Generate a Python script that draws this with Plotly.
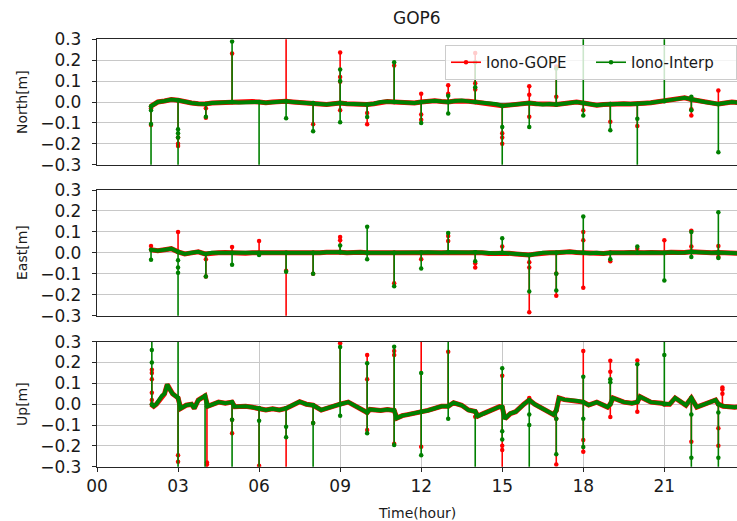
import numpy as np
import plotly.graph_objects as go

# ---------------- data ----------------
HOURS_Q = [2.0, 2.25, 2.5, 2.75, 3.0, 3.25, 3.5, 3.75, 4.0, 4.25, 4.5, 4.75,
           5.0, 5.25, 5.5, 5.75, 6.0, 6.25, 6.5, 6.75, 7.0, 7.25, 7.5, 7.75,
           8.0, 8.25, 8.5, 8.75, 9.0, 9.25, 9.5, 9.75, 10.0, 10.25, 10.5, 10.75,
           11.0, 11.25, 11.5, 11.75, 12.0, 12.25, 12.5, 12.75, 13.0, 13.25, 13.5, 13.75,
           14.0, 14.25, 14.5, 14.75, 15.0, 15.25, 15.5, 15.75, 16.0, 16.25, 16.5, 16.75,
           17.0, 17.25, 17.5, 17.75, 18.0, 18.25, 18.5, 18.75, 19.0, 19.25, 19.5, 19.75,
           20.0, 20.25, 20.5, 20.75, 21.0, 21.25, 21.5, 21.75, 22.0, 22.25, 22.5, 22.75,
           23.0, 23.25, 23.5, 23.75]

NORTH_BASE = [-0.02, 0.0, 0.005, 0.012, 0.008, 0.0, -0.005, -0.008, -0.01, -0.005, -0.003, 0.0,
              0.0, -0.002, 0.0, 0.002, 0.0, -0.003, 0.0, 0.002, 0.003, 0.0, -0.003, -0.002,
              -0.005, -0.01, -0.012, -0.008, -0.005, -0.008, -0.01, -0.012, -0.012, -0.008, 0.0, 0.002,
              0.0, -0.003, -0.006, -0.005, 0.0, 0.003, 0.006, 0.002, 0.0, 0.005, 0.007, 0.003,
              0.0, -0.003, -0.006, -0.01, -0.018, -0.015, -0.01, -0.008, -0.005, -0.008, -0.012, -0.01,
              -0.012, -0.008, -0.003, 0.0, -0.005, -0.01, -0.015, -0.012, -0.01, -0.012, -0.008, -0.01,
              -0.01, -0.006, -0.004, 0.0, 0.003, 0.008, 0.015, 0.02, 0.012, 0.005, 0.0, -0.005,
              -0.01, -0.005, 0.0, -0.003]

EAST_BASE = [0.015, 0.01, 0.015, 0.02, 0.005, -0.005, 0.0, 0.005, -0.005, 0.0, 0.0, 0.002,
             0.0, 0.0, -0.002, 0.0, 0.0, 0.0, -0.003, -0.002, 0.0, 0.0, -0.002, 0.0,
             0.0, 0.0, 0.003, 0.005, 0.003, 0.0, 0.002, 0.003, 0.0, 0.002, 0.0, 0.0,
             0.0, -0.002, 0.0, 0.0, 0.002, 0.003, 0.0, 0.0, 0.003, 0.002, 0.0, 0.002,
             0.003, 0.0, -0.003, -0.002, 0.0, -0.002, -0.005, -0.008, -0.01, -0.005, 0.0, 0.0,
             0.0, 0.003, 0.005, 0.002, 0.0, -0.002, 0.0, -0.003, 0.0, -0.002, 0.0, 0.002,
             0.0, 0.0, 0.002, 0.0, 0.0, 0.003, 0.0, 0.002, 0.005, 0.003, 0.0, 0.0,
             0.002, 0.0, 0.0, -0.002]

UP_T = [2.0, 2.1, 2.2, 2.3, 2.4, 2.5, 2.6, 2.7, 2.8, 2.9, 3.0, 3.1, 3.3, 3.5, 3.6, 3.75, 3.9, 4.0,
        4.1, 4.3, 4.5, 4.75, 5.0, 5.1, 5.5, 5.75, 6.0, 6.25, 6.5, 6.75, 7.0, 7.25, 7.5, 7.75,
        8.0, 8.3, 8.6, 8.8, 9.0, 9.3, 9.5, 9.75, 10.0, 10.1, 10.5, 10.75, 11.0, 11.1, 11.3, 11.5,
        11.75, 12.0, 12.25, 12.5, 12.75, 13.0, 13.2, 13.5, 13.75, 14.0, 14.1, 14.3, 14.6, 14.9,
        15.0, 15.1, 15.3, 15.5, 15.8, 16.0, 16.2, 16.5, 16.9, 17.0, 17.1, 17.3, 17.5, 17.8,
        18.0, 18.2, 18.5, 18.9, 19.0, 19.1, 19.5, 19.8, 20.0, 20.1, 20.5, 20.9, 21.0, 21.2,
        21.4, 21.8, 22.0, 22.2, 22.5, 22.9, 23.0, 23.2, 23.6, 23.75]
UP_BASE = [0.0, -0.01, 0.0, 0.02, 0.04, 0.05, 0.095, 0.07, 0.05, 0.04, 0.03, -0.02, -0.005, 0.0, -0.02, 0.02, 0.035, 0.04,
           -0.01, 0.0, 0.01, 0.005, 0.01, -0.012, -0.01, -0.015, -0.02, -0.028, -0.022, -0.028, -0.02, -0.005, 0.012, 0.0,
           -0.005, -0.028, -0.015, -0.005, 0.0, 0.01, -0.005, -0.025, -0.04, -0.025, -0.03, -0.025, -0.03, -0.067, -0.055, -0.05,
           -0.045, -0.036, -0.03, -0.02, -0.01, -0.01, 0.007, -0.005, -0.028, -0.035, -0.057, -0.045, -0.03, -0.012,
           -0.014, -0.07, -0.045, -0.036, 0.0, 0.02, 0.0, -0.02, -0.05, -0.03, 0.03, 0.022, 0.02, 0.015,
           0.01, -0.004, 0.01, -0.014, 0.0, 0.03, 0.01, 0.005, 0.01, 0.036, 0.01, 0.005, 0.0, 0.0,
           0.03, -0.005, 0.03, -0.014, 0.0, 0.02, 0.0, -0.01, -0.015, -0.012]

# spikes: epochs and the values each solution jumps to (off-scale values lie beyond +-0.3)
NORTH_SPIKE_T = [2.0, 3.0, 4.03, 5.0, 6.0, 7.0, 8.0, 9.0, 10.0, 11.0, 12.0, 13.0, 14.0,
                 15.0, 16.0, 17.0, 18.0, 19.0, 20.0, 21.0, 22.0, 23.0]
NORTH_GOPE = [[-0.03, -0.11], [-0.17, -0.2, -0.21], [-0.03, -0.075], [0.232], [], [0.5], [-0.107],
              [0.237, 0.12, 0.097, -0.04], [-0.053, -0.107], [0.175], [0.04, -0.06, -0.085], [0.08, 0.04],
              [0.235, 0.09, 0.06], [-0.15, -0.17, -0.2], [0.075, 0.035, -0.07], [0.17, 0.025], [-0.04],
              [-0.095], [-0.115], [], [-0.035, -0.065], [0.055, -0.01]]
NORTH_INTERP = [[-0.04, -0.105, -0.5], [-0.13, -0.15, -0.17, -0.5], [-0.07], [0.29], [-0.5], [-0.078],
                [-0.14], [0.155, 0.1, -0.097], [-0.072], [0.19], [-0.1], [0.03, -0.055], [0.19, 0.07],
                [-0.12, -0.5], [-0.12], [0.16], [0.5, -0.065], [-0.135], [-0.08, -0.5], [0.5],
                [0.025, -0.04], [-0.24]]

EAST_SPIKE_T = [2.0, 3.0, 4.03, 5.0, 6.0, 7.0, 8.0, 9.0, 10.0, 11.0, 12.0, 13.0, 14.0,
                15.0, 16.0, 17.0, 18.0, 19.0, 20.0, 21.0, 22.0, 23.0]
EAST_GOPE = [[0.033], [0.1], [-0.03, -0.113], [0.028], [0.057], [-0.085, -0.5], [-0.1], [0.076, 0.06],
             [], [-0.145], [-0.03], [0.08, 0.057], [-0.05, -0.07], [0.03], [-0.045, -0.07, -0.284],
             [-0.098, -0.205], [0.1, 0.06, -0.167], [-0.04], [0.02], [0.06], [0.106, 0.03], [0.033, -0.02]]
EAST_INTERP = [[-0.033], [-0.035, -0.07, -0.095, -0.5], [-0.113], [-0.057], [-0.01], [-0.09], [-0.1],
               [0.035], [0.124, -0.03], [-0.16], [-0.075], [0.095], [-0.04], [0.07], [-0.184],
               [-0.1, -0.18], [0.173], [-0.03], [0.03], [-0.132], [0.1, -0.02], [0.194, -0.025]]

UP_SPIKE_T = [2.03, 3.0, 4.0, 4.07, 5.0, 6.0, 7.0, 8.0, 9.0, 10.0, 11.0, 12.0, 13.0, 14.0,
              15.0, 16.0, 17.0, 18.0, 19.0, 20.0, 21.0, 22.0, 23.0, 23.15]
UP_GOPE = [[0.165, 0.15, 0.12, 0.055, 0.02], [-0.245, -0.276], [], [-0.28, -0.29, -0.5],
           [-0.075, -0.14], [-0.295], [-0.5], [-0.09], [0.293], [0.236, 0.12, -0.124],
           [0.255, 0.236, -0.19], [0.5, -0.204], [0.252], [-0.06], [0.137, -0.2, -0.22, -0.5],
           [0.03], [-0.07, -0.29], [0.255, -0.172, -0.228], [0.209, 0.156, -0.062], [0.21, -0.036],
           [], [-0.18], [-0.115, -0.2], [0.08, 0.07, 0.05]]
UP_INTERP = [[0.5, 0.26, 0.2], [0.5, -0.5], [-0.5], [], [-0.075, -0.5], [-0.08, -0.5],
             [-0.108, -0.159], [-0.09, -0.5], [0.275, -0.055], [0.196, -0.14], [0.276, -0.196],
             [0.15, -0.245], [0.5, -0.07], [-0.5], [0.173, -0.13, -0.17], [-0.05, -0.1, -0.5],
             [-0.07, -0.24], [0.132, -0.07, -0.206], [0.105, 0.12], [0.192], [0.5, 0.236],
             [-0.05, -0.257, -0.5], [-0.04, -0.257, -0.5], []]

Y_TICKS = [-0.3, -0.2, -0.1, 0.0, 0.1, 0.2, 0.3]
Y_TICK_TEXT = ["\u22120.3", "\u22120.2", "\u22120.1", "0.0", "0.1", "0.2", "0.3"]
X_TICKS = [0, 3, 6, 9, 12, 15, 18, 21]
X_TICK_TEXT = ["00", "03", "06", "09", "12", "15", "18", "21"]
SERIES = ["Iono-GOPE", "Iono-Interp"]
COMPONENTS = ["North[m]", "East[m]", "Up[m]"]

RED = "#ff0000"
GREEN = "#008000"
FONT = "DejaVu Sans"


def spike_xy(times, groups, base_t, base_v):
    bt = np.asarray(base_t)
    xs, ys = [], []
    for t, vals in zip(times, groups):
        if not vals:
            continue
        i = int(np.argmin(np.abs(bt - t)))
        xs += [t] * (len(vals) + 1) + [None]
        ys += [base_v[i]] + list(vals) + [None]
    return xs, ys


panels = [
    (HOURS_Q, NORTH_BASE, NORTH_SPIKE_T, NORTH_GOPE, NORTH_INTERP),
    (HOURS_Q, EAST_BASE, EAST_SPIKE_T, EAST_GOPE, EAST_INTERP),
    (UP_T, UP_BASE, UP_SPIKE_T, UP_GOPE, UP_INTERP),
]

fig = go.Figure()
for k, (bt, bv, st, sg, si) in enumerate(panels):
    xa = "x" if k == 0 else f"x{k + 1}"
    ya = "y" if k == 0 else f"y{k + 1}"
    # red band + spikes
    fig.add_trace(go.Scatter(x=bt, y=bv, mode="lines", line=dict(color=RED, width=5),
                             xaxis=xa, yaxis=ya, showlegend=False, hoverinfo="skip"))
    gx, gy = spike_xy(st, sg, bt, bv)
    fig.add_trace(go.Scatter(x=gx, y=gy, mode="lines+markers", name=SERIES[0],
                             line=dict(color=RED, width=1.6), marker=dict(color=RED, size=4.5),
                             xaxis=xa, yaxis=ya, showlegend=(k == 0), legendrank=1))
    # green band + spikes
    fig.add_trace(go.Scatter(x=bt, y=bv, mode="lines", line=dict(color=GREEN, width=4),
                             xaxis=xa, yaxis=ya, showlegend=False, hoverinfo="skip"))
    ix, iy = spike_xy(st, si, bt, bv)
    fig.add_trace(go.Scatter(x=ix, y=iy, mode="lines+markers", name=SERIES[1],
                             line=dict(color=GREEN, width=1.6), marker=dict(color=GREEN, size=4.5),
                             xaxis=xa, yaxis=ya, showlegend=(k == 0), legendrank=2))

H = 521
TOP, BOT = 39, 54
ph = H - TOP - BOT


def dom(top_px, bot_px):
    return [max(0.0, (H - BOT - bot_px) / ph), min(1.0, (H - BOT - top_px) / ph)]


domains = [dom(39.3, 164.7), dom(190, 315.7), dom(341.7, 466.7)]
XR = [0, 23.69]
AX_LINE = "#262626"
GRID = "#c8c8c8"

layout = dict(
    width=737, height=521, margin=dict(l=97, r=0, t=TOP, b=BOT),
    paper_bgcolor="white", plot_bgcolor="white",
    font=dict(family=FONT, color="#1a1a1a"),
    showlegend=True,
    legend=dict(orientation="h", x=1.0, xanchor="right",
                y=(H - BOT - 45) / ph, yanchor="top",
                bgcolor="rgba(255,255,255,0.8)", bordercolor="#cccccc", borderwidth=1,
                entrywidth=100, entrywidthmode="pixels",
                font=dict(size=15, family=FONT), traceorder="normal"),
)
for k in range(3):
    xk = "xaxis" if k == 0 else f"xaxis{k + 1}"
    yk = "yaxis" if k == 0 else f"yaxis{k + 1}"
    ya = "y" if k == 0 else f"y{k + 1}"
    xa = "x" if k == 0 else f"x{k + 1}"
    bottom = (k == 2)
    layout[xk] = dict(anchor=ya, domain=[0, 1], range=XR, tickvals=X_TICKS, ticktext=X_TICK_TEXT,
                      showticklabels=bottom, ticks="outside" if bottom else "", ticklen=4,
                      tickcolor=AX_LINE, showgrid=bottom, gridcolor=GRID, gridwidth=1.3,
                      zeroline=False, showline=True, mirror=True, linecolor=AX_LINE, linewidth=1.3,
                      tickfont=dict(size=17, family=FONT, color="#1a1a1a"))
    layout[yk] = dict(anchor=xa, domain=domains[k], range=[-0.3, 0.3], tickvals=Y_TICKS,
                      ticktext=Y_TICK_TEXT, ticks="outside", ticklen=4, tickcolor=AX_LINE,
                      showgrid=True, gridcolor=GRID, gridwidth=1.3, zeroline=False,
                      showline=True, mirror=False, linecolor=AX_LINE, linewidth=1.3,
                      ticklabelstandoff=7,
                      tickfont=dict(size=17, family=FONT, color="#1a1a1a"))

ann = [
    dict(text="GOP6", x=0.5, y=(H - BOT - 18) / ph, xref="paper", yref="paper",
         showarrow=False, font=dict(size=17, family=FONT), xanchor="center", yanchor="middle"),
    dict(text="Time(hour)", x=0.5, y=(H - BOT - 513) / ph, xref="paper", yref="paper",
         showarrow=False, font=dict(size=14, family=FONT), xanchor="center", yanchor="middle"),
]
for lab, cy in zip(COMPONENTS, [102, 253, 404]):
    ann.append(dict(text=lab, x=(22 - 97) / 640, y=(H - BOT - cy) / ph, xref="paper", yref="paper",
                    showarrow=False, textangle=-90, font=dict(size=14, family=FONT),
                    xanchor="center", yanchor="middle"))
layout["annotations"] = ann

fig.update_layout(**layout)
fig.write_html("out.html")
